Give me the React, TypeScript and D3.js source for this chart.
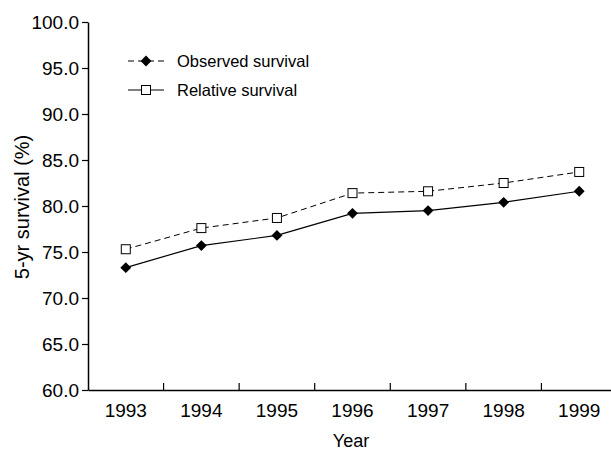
import React, { useEffect, useRef } from 'react';
import * as d3 from 'd3';

const years = ['1993', '1994', '1995', '1996', '1997', '1998', '1999'];
const observed = [73.3, 75.7, 76.8, 79.2, 79.5, 80.4, 81.6];
const relative = [75.3, 77.6, 78.7, 81.4, 81.6, 82.5, 83.7];
const yTicks = [60, 65, 70, 75, 80, 85, 90, 95, 100];

export default function App() {
  const ref = useRef<SVGSVGElement>(null);

  useEffect(() => {
    const height = 456;
    const margin = { top: 22, right: 0, bottom: 66, left: 88 };
    const font = '"Liberation Sans", Arial, sans-serif';

    const svg = d3.select(ref.current);
    svg.selectAll('*').remove();

    const x = d3.scaleBand().domain(years).range([margin.left, 617]);
    const y = d3
      .scaleLinear()
      .domain([60, 100])
      .range([height - margin.bottom, margin.top]);

    // y axis
    const yAxis = svg
      .append('g')
      .attr('transform', `translate(${margin.left},0)`)
      .call(
        d3
          .axisLeft(y)
          .tickValues(yTicks)
          .tickFormat((d) => d3.format('.1f')(d as number))
          .tickSize(6)
          .tickSizeOuter(0)
      );
    yAxis.select('.domain').attr('stroke', '#000').attr('stroke-width', 1.5);
    yAxis.selectAll('.tick line').attr('stroke', '#000').attr('stroke-width', 1.2);
    yAxis
      .selectAll('.tick text')
      .attr('x', -9)
      .style('font-family', font)
      .style('font-size', '19px')
      .attr('fill', '#000');

    // x axis, ticks between categories pointing up
    const xAxis = svg
      .append('g')
      .attr('transform', `translate(0,${y(60)})`)
      .call(d3.axisBottom(x).tickSize(0).tickSizeOuter(0));
    xAxis.select('.domain').attr('stroke', '#000').attr('stroke-width', 1.5);
    xAxis
      .selectAll('.tick text')
      .attr('y', 27)
      .attr('dy', null)
      .style('font-family', font)
      .style('font-size', '19px')
      .attr('fill', '#000');
    xAxis
      .append('g')
      .selectAll('line')
      .data(years.slice(1))
      .join('line')
      .attr('x1', (d) => x(d)!)
      .attr('x2', (d) => x(d)!)
      .attr('y1', 0)
      .attr('y2', -7)
      .attr('stroke', '#000')
      .attr('stroke-width', 1.2);

    // axis titles
    svg
      .append('text')
      .attr('x', 351)
      .attr('y', 447)
      .attr('text-anchor', 'middle')
      .style('font-family', font)
      .style('font-size', '18px')
      .text('Year');
    svg
      .append('text')
      .attr('transform', 'translate(29,207) rotate(-90)')
      .attr('text-anchor', 'middle')
      .style('font-family', font)
      .style('font-size', '20px')
      .text('5-yr survival (%)');

    const cx = (i: number) => x(years[i])! + x.bandwidth() / 2;
    const line = d3
      .line<number>()
      .x((d, i) => cx(i))
      .y((d) => y(d));

    const diamond = d3.symbol().type(d3.symbolDiamond2).size(75);

    // relative survival: dashed line, open squares
    svg
      .append('path')
      .attr('d', line(relative))
      .attr('fill', 'none')
      .attr('stroke', '#000')
      .attr('stroke-width', 1)
      .attr('stroke-dasharray', '6,4');
    svg
      .append('g')
      .selectAll('rect')
      .data(relative)
      .join('rect')
      .attr('x', (d, i) => cx(i) - 4.5)
      .attr('y', (d) => y(d) - 4.5)
      .attr('width', 9)
      .attr('height', 9)
      .attr('fill', '#fff')
      .attr('stroke', '#000')
      .attr('stroke-width', 1);

    // observed survival: solid line, filled diamonds
    svg
      .append('path')
      .attr('d', line(observed))
      .attr('fill', 'none')
      .attr('stroke', '#000')
      .attr('stroke-width', 1.2);
    svg
      .append('g')
      .selectAll('path')
      .data(observed)
      .join('path')
      .attr('d', diamond)
      .attr('transform', (d, i) => `translate(${cx(i)},${y(d)})`)
      .attr('fill', '#000');

    // legend (as in the original figure)
    const legend = svg.append('g');
    legend
      .append('line')
      .attr('x1', 128)
      .attr('x2', 164)
      .attr('y1', 61)
      .attr('y2', 61)
      .attr('stroke', '#000')
      .attr('stroke-dasharray', '6,4');
    legend
      .append('path')
      .attr('d', diamond)
      .attr('transform', 'translate(146,61)')
      .attr('fill', '#000');
    legend
      .append('text')
      .attr('x', 177)
      .attr('y', 67)
      .style('font-family', font)
      .style('font-size', '16.5px')
      .text('Observed survival');
    legend
      .append('line')
      .attr('x1', 128)
      .attr('x2', 164)
      .attr('y1', 90)
      .attr('y2', 90)
      .attr('stroke', '#000');
    legend
      .append('rect')
      .attr('x', 141.5)
      .attr('y', 85.5)
      .attr('width', 9)
      .attr('height', 9)
      .attr('fill', '#fff')
      .attr('stroke', '#000');
    legend
      .append('text')
      .attr('x', 177)
      .attr('y', 96)
      .style('font-family', font)
      .style('font-size', '16.5px')
      .text('Relative survival');
  }, []);

  return (
    <svg
      ref={ref}
      width={611}
      height={456}
      style={{ position: 'absolute', left: 0, top: 0, background: '#fff' }}
    />
  );
}
